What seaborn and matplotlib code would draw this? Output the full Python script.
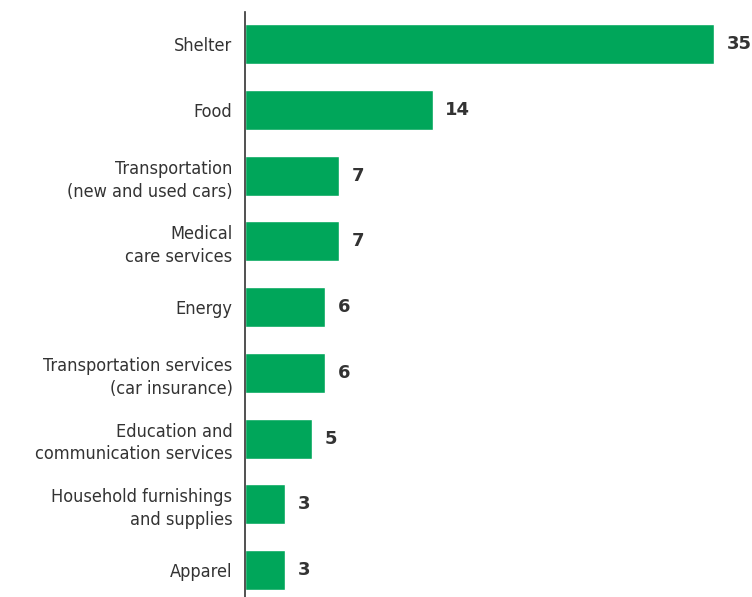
import matplotlib
matplotlib.use("Agg")
import matplotlib.pyplot as plt
import seaborn as sns
import pandas as pd

categories = [
    "Shelter",
    "Food",
    "Transportation\n(new and used cars)",
    "Medical\ncare services",
    "Energy",
    "Transportation services\n(car insurance)",
    "Education and\ncommunication services",
    "Household furnishings\nand supplies",
    "Apparel",
]
values = [35, 14, 7, 7, 6, 6, 5, 3, 3]

bar_color = "#00A65A"

sns.set_theme(style="white")
plt.rcParams["font.family"] = ["DejaVu Sans"]

df = pd.DataFrame({"category": categories, "value": values})

fig = plt.figure(figsize=(7.52, 5.97), dpi=100)
ax = fig.add_axes([245 / 752, 0, 1 - 245 / 752, 1 - 12 / 597])

sns.barplot(data=df, x="value", y="category", color=bar_color,
            saturation=1, width=0.61, ax=ax)

# value labels at the end of each bar
ax.bar_label(ax.containers[0], labels=[str(v) for v in values], padding=9,
             fontsize=13, fontweight="bold", color="#333333")

ax.set_xlim(0, (752 - 245) / 13.4)
ax.set_ylim(8.41, -0.49)
ax.set_xlabel("")
ax.set_ylabel("")
ax.set_xticks([])
ax.tick_params(axis="y", length=0, pad=9, labelsize=13, labelcolor="#333333")
for lab in ax.get_yticklabels():
    lab.set_fontstretch("condensed")
    lab.set_horizontalalignment("right")
    lab.set_multialignment("right")
    lab.set_linespacing(1.35)

sns.despine(ax=ax, top=True, right=True, bottom=True, left=False)
ax.spines["left"].set_color("#333333")
ax.spines["left"].set_linewidth(1.2)

fig.savefig("out.png", dpi=100)
